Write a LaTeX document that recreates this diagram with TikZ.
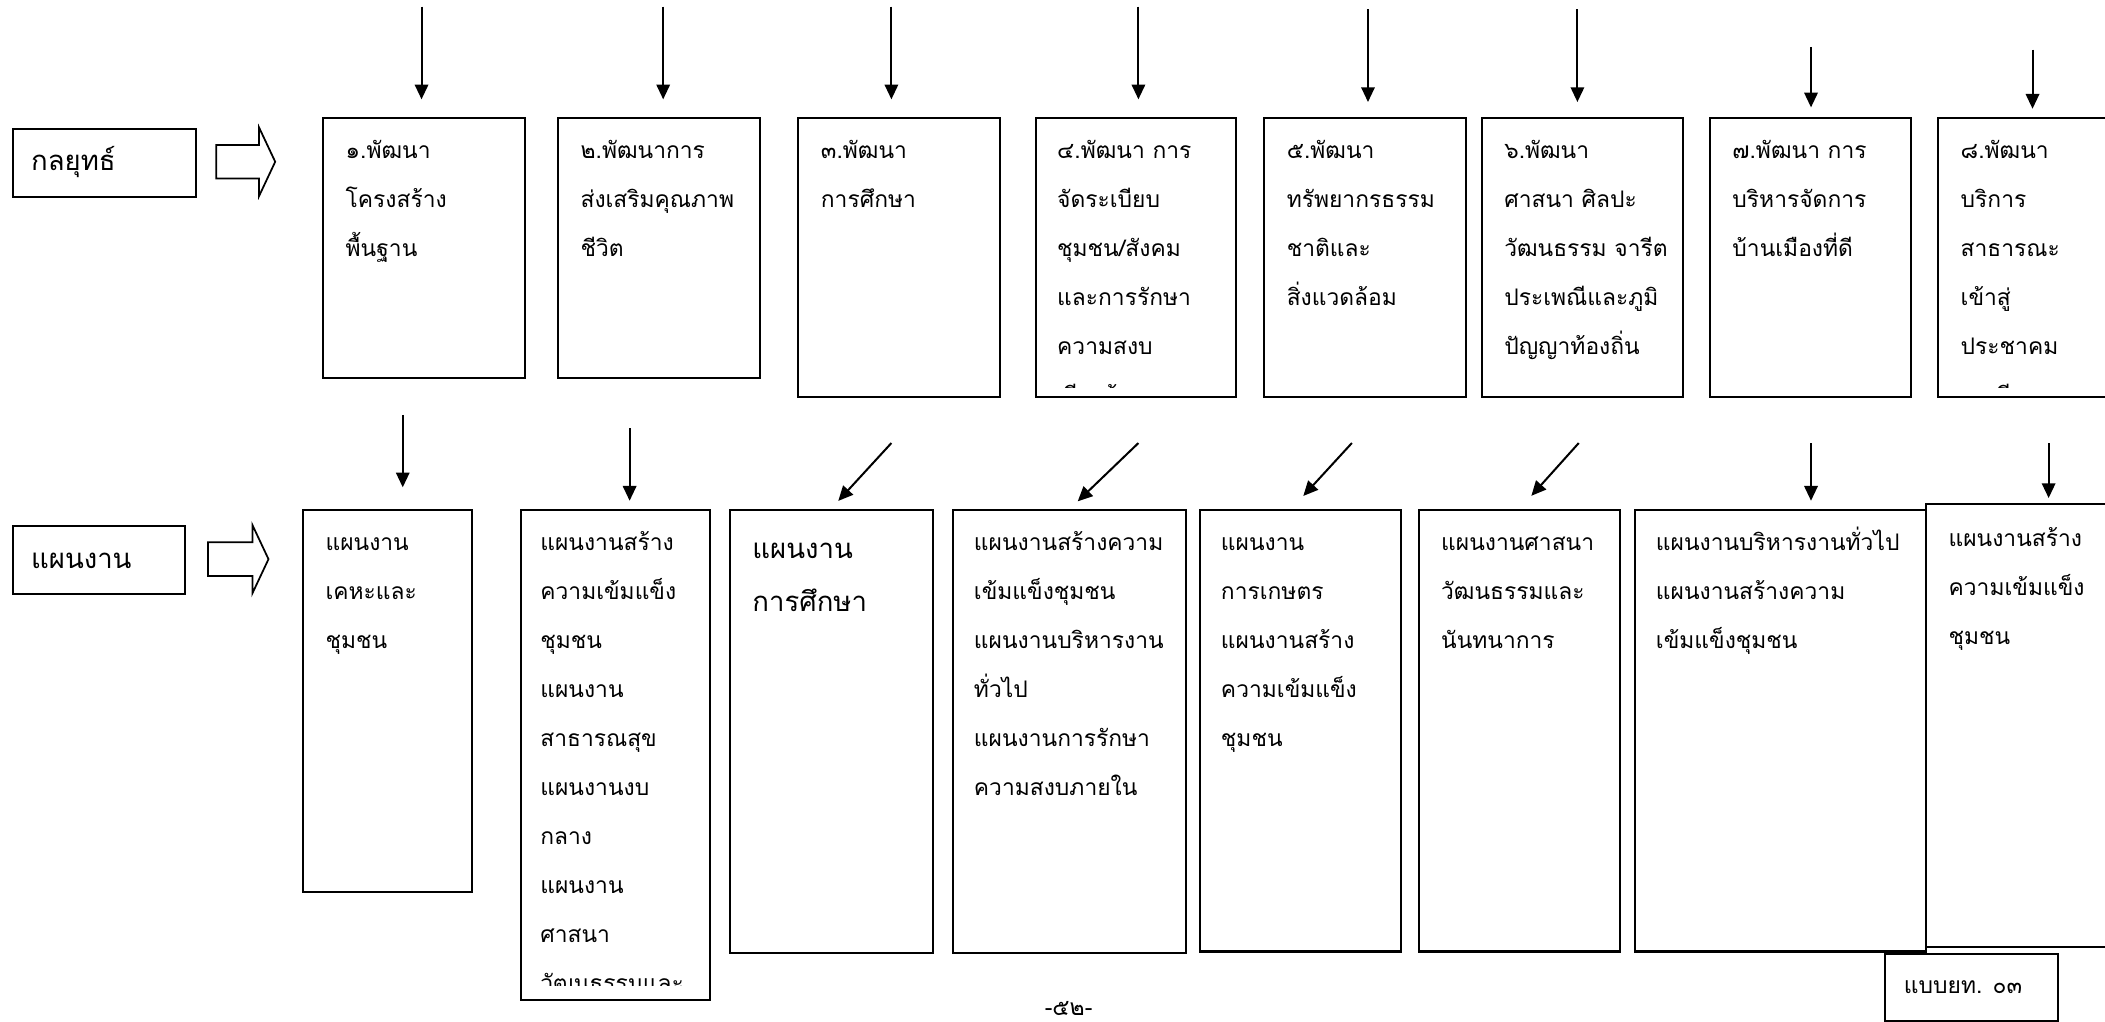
\documentclass[tikz,border=0pt]{standalone}
\usepackage{fontspec}
\setmainfont[Script=Thai]{Loma}
\usetikzlibrary{arrows.meta}
\newcommand{\lns}[1]{\begin{tabular}[t]{@{}l@{}}#1\end{tabular}}
\begin{document}
\begin{tikzpicture}[x=1pt,y=-1pt,
  nfont/.style={font=\fontsize{17}{36.5}\selectfont},
  lfont/.style={font=\fontsize{20.5}{40}\selectfont},
  box/.style={draw, line width=1.5pt, inner sep=0pt, anchor=north west},
  txt/.style={anchor=base west, inner sep=0pt, minimum width=0pt, minimum height=0pt, draw=none, nfont},
  ltxt/.style={txt, lfont},
  bxtext/.style n args={4}{path picture={%
      \clip ([yshift=#3]path picture bounding box.south west) rectangle (path picture bounding box.north east);
      \node[txt] at ([xshift=#1,yshift=#2]path picture bounding box.north west) {\lns{#4}};}},
  bxltext/.style n args={3}{path picture={%
      \node[ltxt] at ([xshift=#1,yshift=#2]path picture bounding box.north west) {\lns{#3}};}},
  arr/.style={line width=1.5pt, -{Triangle[length=11pt,width=10pt]}},
  blk/.style={draw, line width=1.3pt, line join=miter}]
\useasboundingbox (0,0) rectangle (1568,761);
\clip (0,0) rectangle (1568,761);

% left labels
\node[box, minimum width=136, minimum height=51] (lk) at (9,95) {};
\node[ltxt, anchor=west] (lkt) at (23,121) {กลยุทธ์};
\draw[blk] (161,108) -- (193,108) -- (193,95) -- (205,120.5) -- (193,146) -- (193,133) -- (161,133) -- cycle;
\node[box, minimum width=128, minimum height=51] (lp) at (9,391) {};
\node[ltxt, anchor=west] (lpt) at (23,418) {แผนงาน};
\draw[blk] (155,404) -- (188,404) -- (188,391) -- (200,416.5) -- (188,442) -- (188,429) -- (155,429) -- cycle;

% strategy boxes
\node[box, minimum width=150, minimum height=194, bxtext={16pt}{-30pt}{7pt}{๑.พัฒนา\\โครงสร้าง\\พื้นฐาน}] (s1) at (240,87) {};
\node[box, minimum width=150, minimum height=194, bxtext={16pt}{-30pt}{7pt}{๒.พัฒนาการ\\ส่งเสริมคุณภาพ\\ชีวิต}] (s2) at (415,87) {};
\node[box, minimum width=150, minimum height=208, bxtext={16pt}{-30pt}{7pt}{๓.พัฒนา\\การศึกษา}] (s3) at (594,87) {};
\node[box, minimum width=149, minimum height=208, bxtext={15pt}{-30pt}{7pt}{๔.พัฒนา การ\\จัดระเบียบ\\ชุมชน/สังคม\\และการรักษา\\ความสงบ\\เรียบร้อย}] (s4) at (771,87) {};
\node[box, minimum width=150, minimum height=208, bxtext={16pt}{-30pt}{7pt}{๕.พัฒนา\\ทรัพยากรธรรม\\ชาติและ\\สิ่งแวดล้อม}] (s5) at (941,87) {};
\node[box, minimum width=150, minimum height=208, bxtext={16pt}{-30pt}{7pt}{๖.พัฒนา\\ศาสนา ศิลปะ\\วัฒนธรรม จารีต\\ประเพณีและภูมิ\\ปัญญาท้องถิ่น}] (s6) at (1103,87) {};
\node[box, minimum width=150, minimum height=208, bxtext={16pt}{-30pt}{7pt}{๗.พัฒนา การ\\บริหารจัดการ\\บ้านเมืองที่ดี}] (s7) at (1273,87) {};
\node[box, minimum width=150, minimum height=208, bxtext={16pt}{-30pt}{7pt}{๘.พัฒนา\\บริการ\\สาธารณะ\\เข้าสู่\\ประชาคม\\อาเซียน}] (s8) at (1443,87) {};

% plan boxes
\node[box, minimum width=126, minimum height=285, bxtext={16pt}{-30pt}{7pt}{แผนงาน\\เคหะและ\\ชุมชน}] (b1) at (225,379) {};
\node[box, minimum width=141, minimum height=365, bxtext={14pt}{-30pt}{11pt}{แผนงานสร้าง\\ความเข้มแข็ง\\ชุมชน\\แผนงาน\\สาธารณสุข\\แผนงานงบ\\กลาง\\แผนงาน\\ศาสนา\\วัฒนธรรมและ}] (b2) at (387,379) {};
\node[box, minimum width=151, minimum height=330, bxltext={16pt}{-36pt}{แผนงาน\\การศึกษา}] (b3) at (543,379) {};
\node[box, minimum width=174, minimum height=330, bxtext={15pt}{-30pt}{7pt}{แผนงานสร้างความ\\เข้มแข็งชุมชน\\แผนงานบริหารงาน\\ทั่วไป\\แผนงานการรักษา\\ความสงบภายใน}] (b4) at (709,379) {};
\node[box, minimum width=150, minimum height=329, bxtext={15pt}{-30pt}{7pt}{แผนงาน\\การเกษตร\\แผนงานสร้าง\\ความเข้มแข็ง\\ชุมชน}] (b5) at (893,379) {};
\node[box, minimum width=150, minimum height=329, bxtext={16pt}{-30pt}{7pt}{แผนงานศาสนา\\วัฒนธรรมและ\\นันทนาการ}] (b6) at (1056,379) {};
\node[box, minimum width=217, minimum height=329, bxtext={15pt}{-30pt}{7pt}{แผนงานบริหารงานทั่วไป\\แผนงานสร้างความ\\เข้มแข็งชุมชน}] (b7) at (1217,379) {};
\node[box, minimum width=160, minimum height=330, bxtext={16pt}{-31pt}{7pt}{แผนงานสร้าง\\ความเข้มแข็ง\\ชุมชน}] (b8) at (1434,375) {};

% footer
\node[box, minimum width=129, minimum height=50] (form) at (1403,710) {};
\node[txt, anchor=west] (formt) at (1418,735) {แบบยท. ๐๓};
\node[nfont, inner sep=0pt] (pg) at (796,751) {-๕๒-};

% top arrows
\coordinate (t1) at (314,5);
\coordinate (t2) at (494,5);
\coordinate (t3) at (664,5);
\coordinate (t4) at (848,5);
\coordinate (t5) at (1019,7);
\coordinate (t6) at (1175,7);
\coordinate (t7) at (1349,35);
\coordinate (t8) at (1514,37);
\draw[arr, shorten >=13pt] (t1) -- (t1 |- s1.north);
\draw[arr, shorten >=13pt] (t2) -- (t2 |- s2.north);
\draw[arr, shorten >=13pt] (t3) -- (t3 |- s3.north);
\draw[arr, shorten >=13pt] (t4) -- (t4 |- s4.north);
\draw[arr, shorten >=11pt] (t5) -- (t5 |- s5.north);
\draw[arr, shorten >=11pt] (t6) -- (t6 |- s6.north);
\draw[arr, shorten >=7pt] (t7) -- (t7 |- s7.north);
\draw[arr, shorten >=6pt] (t8) -- (t8 |- s8.north);

% plan arrows
\coordinate (u1) at (300,309);
\coordinate (u2) at (469,319);
\coordinate (u3) at (664,330);
\coordinate (u4) at (848,330);
\coordinate (u5) at (1007,330);
\coordinate (u6) at (1176,330);
\coordinate (u7) at (1349,330);
\coordinate (u8) at (1526,330);
\draw[arr, shorten >=16pt] (u1) -- (u1 |- b1.north);
\draw[arr, shorten >=6pt] (u2) -- (u2 |- b2.north);
\draw[arr, shorten >=8pt] (u3) -- ([xshift=76pt]b3.north west);
\draw[arr, shorten >=8pt] (u4) -- ([xshift=88pt]b4.north west);
\draw[arr, shorten >=13pt] (u5) -- ([xshift=69pt]b5.north west);
\draw[arr, shorten >=13pt] (u6) -- ([xshift=76pt]b6.north west);
\draw[arr, shorten >=6pt] (u7) -- (u7 |- b7.north);
\draw[arr, shorten >=4pt] (u8) -- (u8 |- b8.north);
\end{tikzpicture}
\end{document}
